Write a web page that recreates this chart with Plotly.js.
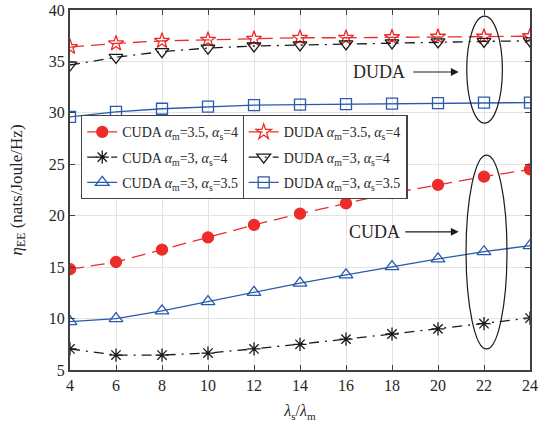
<!DOCTYPE html>
<html><head><meta charset="utf-8">
<script src="https://cdn.plot.ly/plotly-3.0.1.min.js"></script>
<style>body{margin:0;background:#fff}#chart{width:552px;height:431px}</style>
</head><body><div id="chart"></div>
<script>
const ratio = [4, 6, 8, 10, 12, 14, 16, 18, 20, 22, 24];
const cudaA35s4 = [14.8, 15.5, 16.7, 17.9, 19.1, 20.2, 21.2, 22.2, 23.0, 23.8, 24.5];
const cudaA3s4  = [7.05, 6.45, 6.45, 6.65, 7.05, 7.5, 8.0, 8.5, 9.0, 9.5, 10.05];
const cudaA3s35 = [9.7, 10.0, 10.75, 11.65, 12.55, 13.45, 14.25, 15.05, 15.8, 16.5, 17.1];
const dudaA35s4 = [36.4, 36.75, 37.0, 37.1, 37.2, 37.3, 37.3, 37.35, 37.4, 37.4, 37.45];
const dudaA3s4  = [34.65, 35.4, 35.95, 36.3, 36.5, 36.6, 36.7, 36.8, 36.9, 36.95, 37.0];
const dudaA3s35 = [29.6, 30.1, 30.4, 30.6, 30.75, 30.8, 30.85, 30.9, 30.95, 31.0, 31.0];
const names = [
  'CUDA <i>α</i><sub>m</sub>=3.5, <i>α</i><sub>s</sub>=4',
  'CUDA <i>α</i><sub>m</sub>=3, <i>α</i><sub>s</sub>=4',
  'CUDA <i>α</i><sub>m</sub>=3, <i>α</i><sub>s</sub>=3.5',
  'DUDA <i>α</i><sub>m</sub>=3.5, <i>α</i><sub>s</sub>=4',
  'DUDA <i>α</i><sub>m</sub>=3, <i>α</i><sub>s</sub>=4',
  'DUDA <i>α</i><sub>m</sub>=3, <i>α</i><sub>s</sub>=3.5'
];
const RED = '#ee2b2b', BLK = '#1a1a1a', BLU = '#2a5bab';
const DASH = '14px,7px', DASHDOT = '10px,6px,2px,6px';
function tr(y, name, color, dash, symbol, size, legend, grp) {
  return {x: ratio, y: y, name: name, type: 'scatter', mode: 'lines+markers',
    line: {color: color, width: 1.3, dash: dash},
    marker: {symbol: symbol, size: size, color: color, line: {color: color, width: 1.3}},
    legend: legend, legendgroup: grp};
}
const data = [
  tr(cudaA35s4, names[0], RED, DASH, 'circle', 11, 'legend', 'a'),
  tr(cudaA3s4, names[1], BLK, DASHDOT, 'asterisk-open', 11, 'legend', 'b'),
  tr(cudaA3s35, names[2], BLU, 'solid', 'triangle-up-open', 12, 'legend', 'c'),
  tr(dudaA35s4, names[3], RED, DASH, 'star-open', 11.5, 'legend2', 'd'),
  tr(dudaA3s4, names[4], BLK, DASHDOT, 'triangle-down-open', 12, 'legend2', 'e'),
  tr(dudaA3s35, names[5], BLU, 'solid', 'square-open', 11, 'legend2', 'f')
];
const font = {family: '"Liberation Serif", "Times New Roman", serif', size: 16, color: '#262626'};
const legendCommon = {bgcolor: '#fff', bordercolor: '#444', borderwidth: 1.2,
  font: {family: font.family, size: 14, color: '#262626'}, tracegroupgap: 4,
  xanchor: 'left', yanchor: 'top', itemwidth: 30};
const layout = {
  width: 552, height: 431,
  margin: {l: 70, r: 22, t: 10, b: 61},
  paper_bgcolor: '#fff', plot_bgcolor: '#fff',
  font: font,
  showlegend: true,
  xaxis: {range: [4, 24], tickvals: ratio, ticks: 'inside', ticklen: 5, tickcolor: '#404040',
    showline: true, linecolor: '#404040', linewidth: 2, mirror: 'ticks', automargin: 'bottom',
    showgrid: true, gridcolor: '#e3e3e3', gridwidth: 1, zeroline: false,
    title: {text: '<i>λ</i><sub>s</sub>/<i>λ</i><sub>m</sub>', font: {size: 16}, standoff: 12}},
  yaxis: {range: [5, 40], dtick: 5, ticks: 'inside', ticklen: 5, tickcolor: '#404040',
    showline: true, linecolor: '#404040', linewidth: 2, mirror: 'ticks', automargin: 'left',
    showgrid: true, gridcolor: '#e3e3e3', gridwidth: 1, zeroline: false,
    title: {text: '<i>η</i><sub>EE</sub> (nats/Joule/Hz)', font: {size: 17}, standoff: 22}},
  legend: Object.assign({x: 0.024, y: 0.708}, legendCommon),
  legend2: Object.assign({x: 0.375, y: 0.708}, legendCommon),
  shapes: [
    {type: 'circle', xref: 'x', yref: 'y', x0: 21.25, x1: 22.8, y0: 29.0, y1: 39.4,
     line: {color: BLK, width: 1.2}},
    {type: 'circle', xref: 'x', yref: 'y', x0: 21.22, x1: 23.0, y0: 7.05, y1: 25.9,
     line: {color: BLK, width: 1.2}}
  ],
  annotations: [
    {x: 17.45, y: 33.97, xref: 'x', yref: 'y', text: 'DUDA', showarrow: false,
     font: {size: 18, color: '#262626'}},
    {x: 20.9, y: 33.97, xref: 'x', yref: 'y', text: '', showarrow: true, ax: -47, ay: 0,
     arrowhead: 2, arrowsize: 1.3, arrowwidth: 1.2, arrowcolor: BLK},
    {x: 17.25, y: 18.43, xref: 'x', yref: 'y', text: 'CUDA', showarrow: false,
     font: {size: 18, color: '#262626'}},
    {x: 20.9, y: 18.43, xref: 'x', yref: 'y', text: '', showarrow: true, ax: -55, ay: 0,
     arrowhead: 2, arrowsize: 1.3, arrowwidth: 1.2, arrowcolor: BLK}
  ]
};
Plotly.newPlot('chart', data, layout, {displayModeBar: false, staticPlot: true});
</script>
</body></html>
